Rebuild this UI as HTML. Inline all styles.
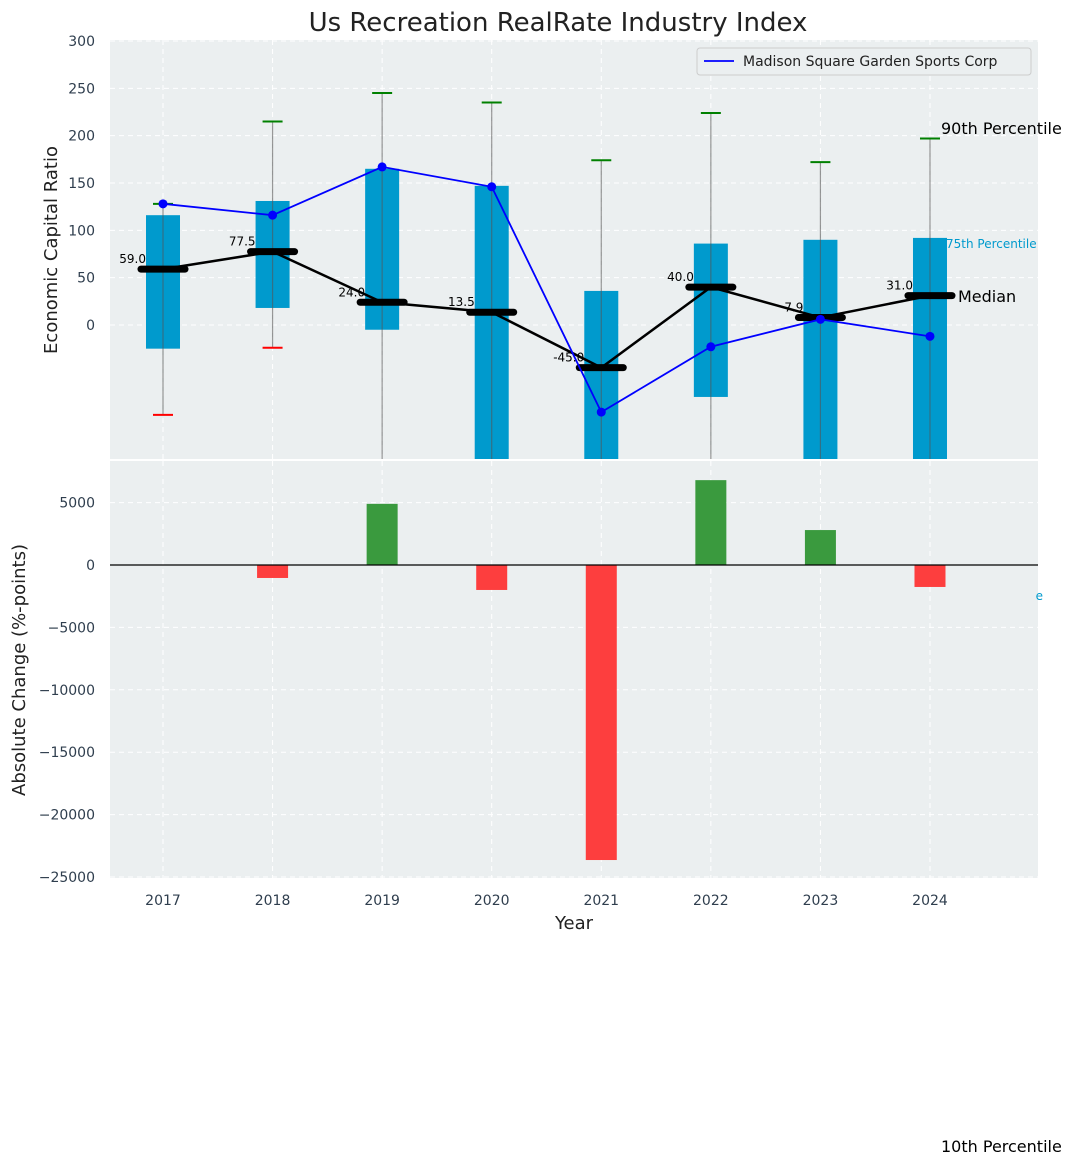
<!DOCTYPE html>
<html><head><meta charset="utf-8"><style>
body{margin:0;background:#fff;font-family:"Liberation Sans","DejaVu Sans",sans-serif}
svg text{font-family:"DejaVu Sans","Liberation Sans",sans-serif}
</style></head><body>
<svg id="c" width="1076" height="1166" xmlns="http://www.w3.org/2000/svg"></svg>
<script>
const years=[2017,2018,2019,2020,2021,2022,2023,2024];
const p90=[128,215,245,235,174,224,172,197];
const p75=[116,131,165,147,36,86,90,92];
const medians=[59.0,77.5,24.0,13.5,-45.0,40.0,7.9,31.0];
const p25=[-25,18,-5,-200,-200,-76,-200,-200];
const p10=[-95,-24,-300,-300,-300,-300,-300,-300];
const company=[128,116,167,146,-92,-23,6,-12];
const changes=[0,-1040,4900,-2000,-23640,6800,2800,-1760];
const yTicksTop=[0,50,100,150,200,250,300];
const yTicksBot=[5000,0,-5000,-10000,-15000,-20000,-25000];

const NS="http://www.w3.org/2000/svg",svg=document.getElementById('c');
function el(t,a,p){const e=document.createElementNS(NS,t);for(const k in a)e.setAttribute(k,a[k]);(p||svg).appendChild(e);return e;}
const L=110,R=1038,T1=40,B1=459,T2=461,B2=878;
const x=i=>163+i*109.57;
const y1=v=>325-v*0.9467;
const y2=v=>565-v*0.01248;

let t=el('text',{x:558,y:31,'font-size':26,'text-anchor':'middle',fill:'#222'});t.textContent='Us Recreation RealRate Industry Index';


let r=el('rect',{x:L,y:T1,width:R-L,height:B1-T1,fill:'#ebeff0'});

r=el('rect',{x:L,y:T2,width:R-L,height:B2-T2,fill:'#ebeff0'});

const defs=el('defs',{});
let cp=el('clipPath',{id:'cp1'},defs);el('rect',{x:L,y:T1,width:R-L,height:B1-T1},cp);
cp=el('clipPath',{id:'cp2'},defs);el('rect',{x:L,y:T2,width:R-L,height:B2-T2},cp);
const g1=el('g',{'clip-path':'url(#cp1)'});const g2=el('g',{'clip-path':'url(#cp2)'});

yTicksTop.forEach(v=>{el('line',{x1:L,x2:R,y1:y1(v),y2:y1(v),stroke:'#fff','stroke-dasharray':'5,4','stroke-width':1},g1);
 const tt=el('text',{x:95,y:y1(v)+5,'font-size':14,'text-anchor':'end',fill:'#2f3e4e'});tt.textContent=v;
 });
yTicksBot.forEach(v=>{el('line',{x1:L,x2:R,y1:y2(v),y2:y2(v),stroke:'#fff','stroke-dasharray':'5,4','stroke-width':1},g2);
 const tt=el('text',{x:95,y:y2(v)+5,'font-size':14,'text-anchor':'end',fill:'#2f3e4e'});tt.textContent=String(v).replace('-','\u2212');
 });
years.forEach((yr,i)=>{el('line',{x1:x(i),x2:x(i),y1:T1,y2:B1,stroke:'#fff','stroke-dasharray':'5,4'},g1);
 el('line',{x1:x(i),x2:x(i),y1:T2,y2:B2,stroke:'#fff','stroke-dasharray':'5,4'},g2);
 const tt=el('text',{x:x(i),y:905,'font-size':14,'text-anchor':'middle',fill:'#2f3e4e'});tt.textContent=yr;
 });

years.forEach((yr,i)=>{
 const b=el('rect',{x:x(i)-17,y:y1(p75[i]),width:34,height:y1(p25[i])-y1(p75[i]),fill:'#009acd'},g1);
 
 el('line',{x1:x(i),x2:x(i),y1:y1(p90[i]),y2:y1(p10[i]),stroke:'#555','stroke-opacity':0.6,'stroke-width':1.2},g1);
 el('line',{x1:x(i)-10,x2:x(i)+10,y1:y1(p90[i]),y2:y1(p90[i]),stroke:'green','stroke-width':2},g1);
 el('line',{x1:x(i)-10,x2:x(i)+10,y1:y1(p10[i]),y2:y1(p10[i]),stroke:'red','stroke-width':2},g1);
});
el('polyline',{points:medians.map((v,i)=>x(i)+','+y1(v)).join(' '),fill:'none',stroke:'#000','stroke-width':2.5},g1);
medians.forEach((v,i)=>{
 const m=el('line',{x1:x(i)-22,x2:x(i)+22,y1:y1(v),y2:y1(v),stroke:'#000','stroke-width':7,'stroke-linecap':'round'},g1);
 
 const tt=el('text',{x:x(i)-17,y:y1(v)-6,'font-size':12,'text-anchor':'end',fill:'#000'});tt.textContent=v.toFixed(1);
 
});
el('polyline',{points:company.map((v,i)=>x(i)+','+y1(v)).join(' '),fill:'none',stroke:'#00f','stroke-width':1.8},g1);
company.forEach((v,i)=>{const c=el('circle',{cx:x(i),cy:y1(v),r:4.5,fill:'#00f'},g1);
 });

changes.forEach((v,i)=>{if(!v)return;const b=el('rect',{x:x(i)-15.5,y:Math.min(y2(v),y2(0)),width:31,height:Math.abs(y2(v)-y2(0)),fill:v>0?'#3a9a3e':'#fd3e3e'},g2);
 });
el('line',{x1:L,x2:R,y1:y2(0),y2:y2(0),stroke:'#000','stroke-width':1.3});

t=el('text',{x:0,y:0,'font-size':18,'text-anchor':'middle',fill:'#222',transform:'translate(57,250) rotate(-90)'});t.textContent='Economic Capital Ratio';

t=el('text',{x:0,y:0,'font-size':18,'text-anchor':'middle',fill:'#222',transform:'translate(25,670) rotate(-90)'});t.textContent='Absolute Change (%-points)';

t=el('text',{x:574,y:929,'font-size':18,'text-anchor':'middle',fill:'#222'});t.textContent='Year';

t=el('text',{x:941,y:134,'font-size':16,fill:'#000'});t.textContent='90th Percentile';

t=el('text',{x:946,y:248,'font-size':12,fill:'#009acd'});t.textContent='75th Percentile';

t=el('text',{x:958,y:302,'font-size':16,fill:'#000'});t.textContent='Median';

t=el('text',{x:941,y:1152,'font-size':16,fill:'#000'});t.textContent='10th Percentile';

t=el('text',{x:1043,y:600,'font-size':12,fill:'#009acd','text-anchor':'end'});t.textContent='e';


const lg=el('g',{});
el('rect',{x:697,y:48,width:334,height:27,rx:3,fill:'#ebeff0',stroke:'#ccc'},lg);
el('line',{x1:704,x2:734,y1:61,y2:61,stroke:'#00f','stroke-width':1.8},lg);
t=el('text',{x:743,y:66,'font-size':14,fill:'#222'},lg);t.textContent='Madison Square Garden Sports Corp';

</script>
</body></html>
